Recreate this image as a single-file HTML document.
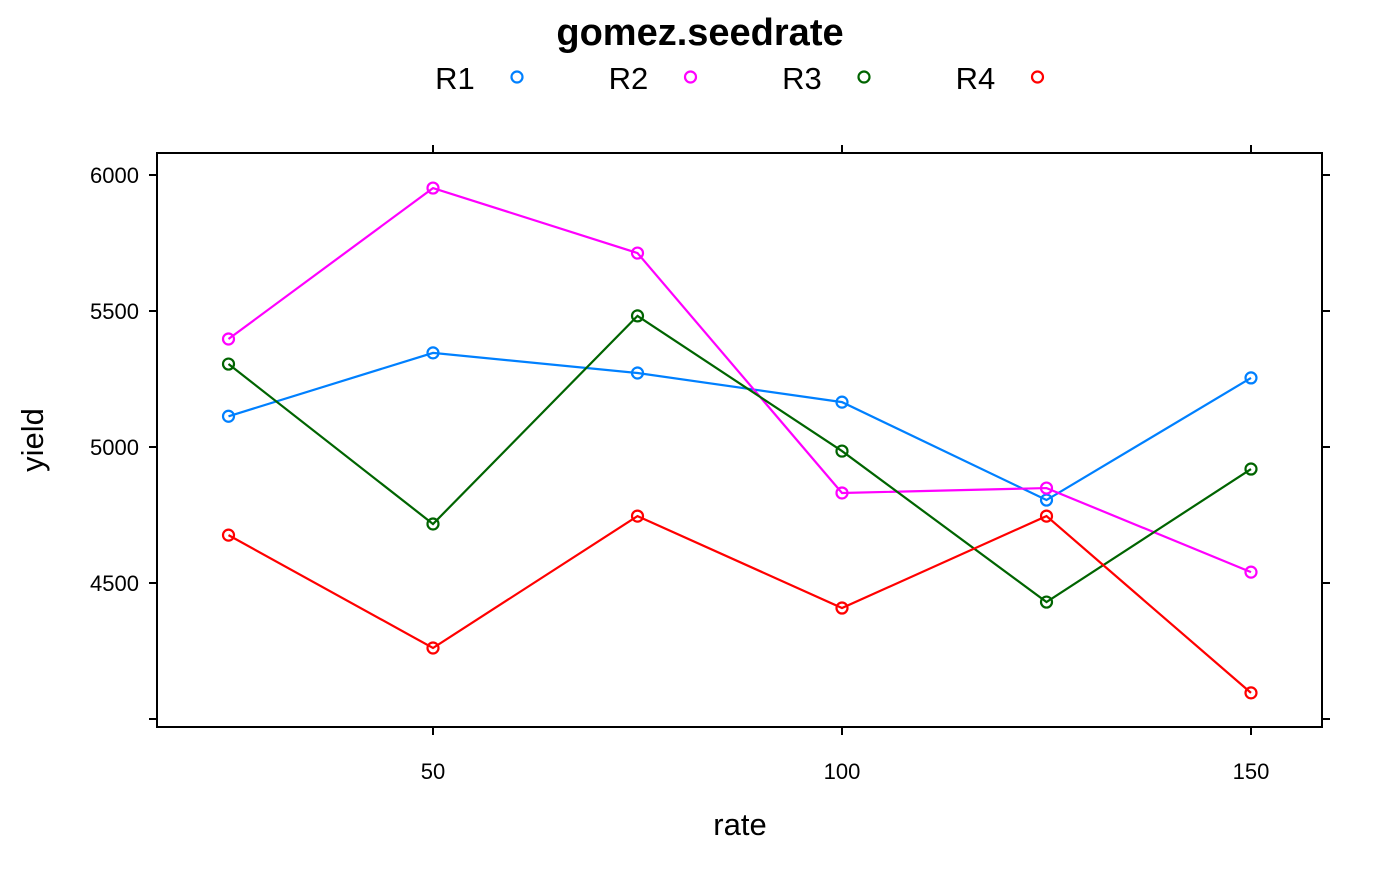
<!DOCTYPE html>
<html><head><meta charset="utf-8"><style>
body{margin:0;background:#fff;}
svg text{font-family:"Liberation Sans",Arial,sans-serif;}
</style></head><body>
<svg id="chart" width="1400" height="866" xmlns="http://www.w3.org/2000/svg">
<text x="700" y="45" text-anchor="middle" font-size="38" font-weight="bold">gomez.seedrate</text>
<g id="legend"></g>
<rect x="157" y="153" width="1165" height="574" fill="none" stroke="#000" stroke-width="2"/>
<g id="axes"></g>
<g id="series"></g>
<text x="740" y="835" text-anchor="middle" font-size="31">rate</text>
<text x="43" y="440" text-anchor="middle" font-size="31" transform="rotate(-90 43 440)">yield</text>
</svg>
<script>
const rates = [25, 50, 75, 100, 125, 150];
const seriesNames = ["R1", "R2", "R3", "R4"];
const seriesColors = ["#0080ff", "#ff00ff", "#006400", "#ff0000"];
const r1 = [5113, 5346, 5272, 5165, 4805, 5254];
const r2 = [5397, 5952, 5713, 4831, 4849, 4540];
const r3 = [5305, 4717, 5482, 4985, 4430, 4919];
const r4 = [4676, 4261, 4746, 4408, 4746, 4096];
const xTicks = [50, 100, 150];
const yTicks = [4000, 4500, 5000, 5500, 6000];
const yTickLabels = ["", "4500", "5000", "5500", "6000"];

const NS = "http://www.w3.org/2000/svg";
function X(v){ return 433 + (v - 50) * 409 / 50; }
function Y(v){ return 719 - (v - 4000) * 0.272; }
function mk(tag, attrs, parent){ const e = document.createElementNS(NS, tag); for (const k in attrs) e.setAttribute(k, attrs[k]); parent.appendChild(e); return e; }

const axes = document.getElementById('axes');
xTicks.forEach(t => {
  const x = X(t);
  let l = mk('line', {x1:x, x2:x, y1:727, y2:735, stroke:'#000', 'stroke-width':2}, axes);
  
  
  l = mk('line', {x1:x, x2:x, y1:145, y2:153, stroke:'#000', 'stroke-width':2}, axes);
  
  
  const tx = mk('text', {x:x, y:779, 'text-anchor':'middle', 'font-size':22}, axes);
  tx.textContent = t;
  
  
});
yTicks.forEach((t, i) => {
  const y = Y(t);
  let l = mk('line', {x1:149, x2:157, y1:y, y2:y, stroke:'#000', 'stroke-width':2}, axes);
  
  
  l = mk('line', {x1:1322, x2:1330, y1:y, y2:y, stroke:'#000', 'stroke-width':2}, axes);
  
  
  if (yTickLabels[i]) {
    const tx = mk('text', {x:139, y:y + 8, 'text-anchor':'end', 'font-size':22}, axes);
    tx.textContent = yTickLabels[i];
    
    
  }
});

const allSeries = [r1, r2, r3, r4];
const sg = document.getElementById('series');
allSeries.forEach((vals, si) => {
  const g = mk('g', {}, sg);
  
  
  const pts = vals.map((v, i) => X(rates[i]) + ',' + Y(v)).join(' ');
  const pl = mk('polyline', {points:pts, fill:'none', stroke:seriesColors[si], 'stroke-width':2.2}, g);
  
  
  vals.forEach((v, i) => {
    const c = mk('circle', {cx:X(rates[i]), cy:Y(v), r:5.5, fill:'none', stroke:seriesColors[si], 'stroke-width':2.2}, g);
    
    
  });
});

const lg = document.getElementById('legend');
seriesNames.forEach((n, i) => {
  const g = mk('g', {}, lg);
  
  
  const bx = 455 + i * 173.5;
  const t = mk('text', {x:bx, y:89, 'text-anchor':'middle', 'font-size':31}, g);
  t.textContent = n;
  mk('circle', {cx:bx + 62, cy:77, r:5.5, fill:'none', stroke:seriesColors[i], 'stroke-width':2.2}, g);
});
</script>
</body></html>
